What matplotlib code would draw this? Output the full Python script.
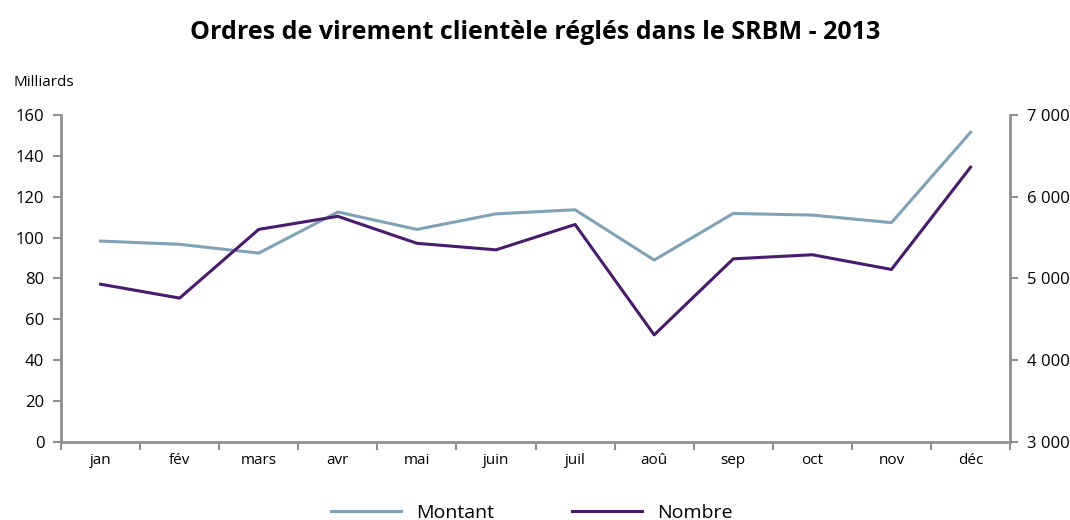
import matplotlib.pyplot as plt
import numpy as np

# data
mois = ['jan', 'fév', 'mars', 'avr', 'mai', 'juin', 'juil', 'aoû', 'sep', 'oct', 'nov', 'déc']
montant = [98.3, 96.7, 92.4, 112.5, 104.0, 111.6, 113.6, 89.0, 111.8, 111.0, 107.3, 151.5]  # milliards
nombre = [4930, 4760, 5600, 5760, 5430, 5350, 5660, 4310, 5240, 5290, 5110, 6360]

plt.rcParams['font.family'] = ['Open Sans', 'DejaVu Sans']
grey = '#8e9094'
col_montant = '#7fa2b8'
col_nombre = '#4a1a6c'

fig = plt.figure(figsize=(10.7, 5.2), dpi=100)
ax = fig.add_axes([0.057, 0.15, 0.887, 0.629])
ax2 = ax.twinx()

x = np.arange(len(mois))
l1, = ax.plot(x, montant, color=col_montant, lw=2.2, label='Montant')
l2, = ax2.plot(x, nombre, color=col_nombre, lw=2.2, label='Nombre')

ax.set_xlim(-0.5, len(mois) - 0.5)
ax.set_ylim(0, 160)
ax.set_yticks(range(0, 161, 20))
ax2.set_ylim(3000, 7000)
ax2.set_yticks(range(3000, 7001, 1000))
ax2.set_yticklabels([f'{v:,}'.replace(',', ' ') for v in range(3000, 7001, 1000)])

# month ticks at the boundaries, labels centred
ax.set_xticks(np.arange(-0.5, len(mois), 1))
ax.set_xticklabels([])
ax.set_xticks(x, minor=True)
ax.set_xticklabels(mois, minor=True, fontsize=11)
ax.tick_params(axis='x', which='minor', length=0, pad=8)
ax.tick_params(axis='x', which='major', length=6, width=1.5, color=grey)

for a in (ax, ax2):
    a.spines['top'].set_visible(False)
    for s in ('left', 'right', 'bottom'):
        a.spines[s].set_color(grey)
        a.spines[s].set_linewidth(2)
ax.spines['right'].set_visible(False)
ax2.spines['left'].set_visible(False)
ax2.spines['bottom'].set_visible(False)

ax.tick_params(axis='y', length=6, width=1.5, color=grey, labelsize=12, pad=6)
ax2.tick_params(axis='y', length=6, width=1.5, color=grey, labelsize=12, pad=6)

fig.text(0.013, 0.835, 'Milliards', fontsize=11)
fig.suptitle('Ordres de virement clientèle réglés dans le SRBM - 2013',
             fontsize=18, fontweight='bold', y=0.962)

fig.legend([l1, l2], ['Montant', 'Nombre'], loc='lower center', ncol=2,
           bbox_to_anchor=(0.497, -0.037), frameon=False, fontsize=14,
           handlelength=3.6, columnspacing=4)

fig.savefig('out.png', dpi=100)
